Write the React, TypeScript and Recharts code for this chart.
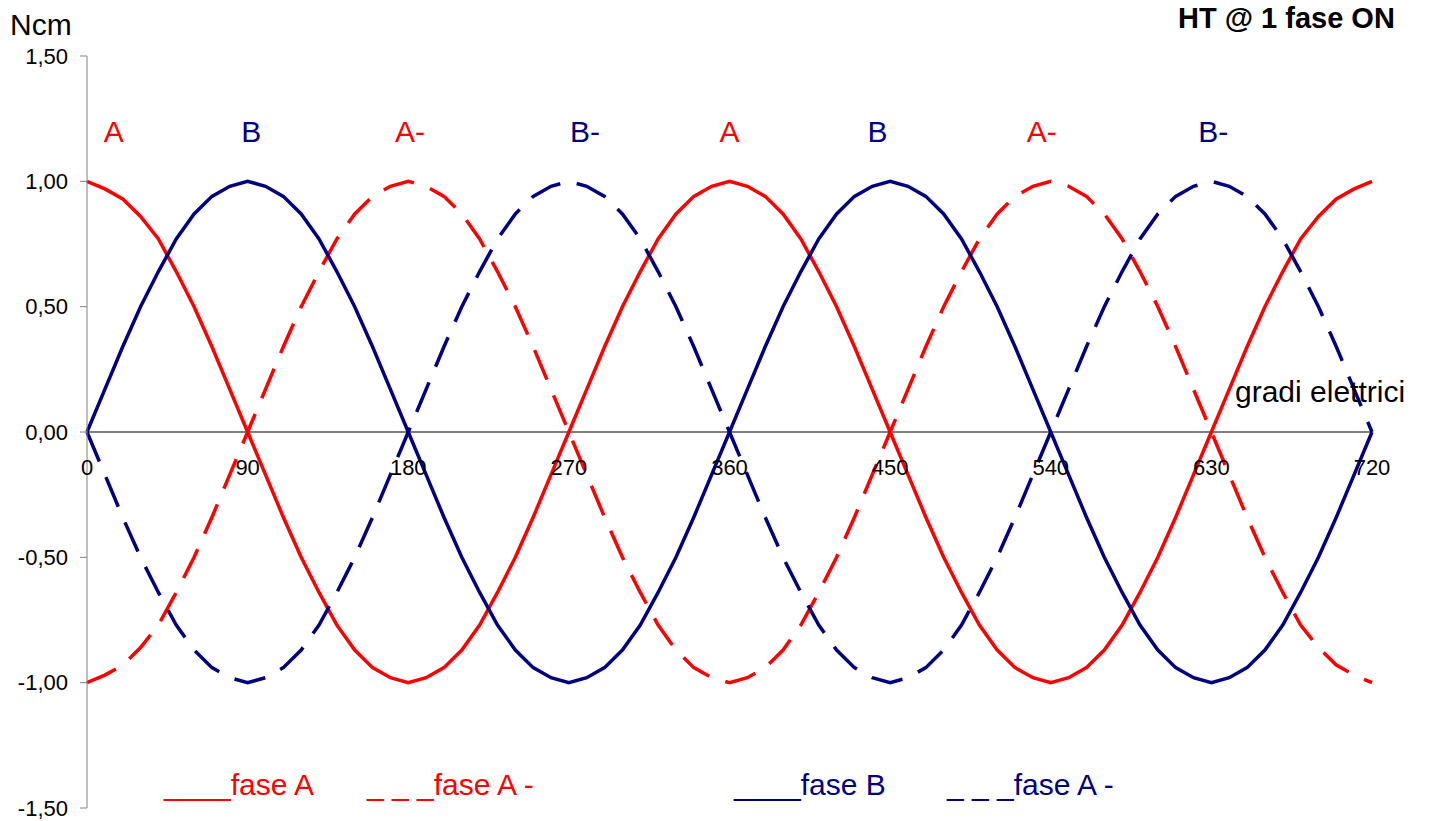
import { LineChart, Line, XAxis, YAxis, ReferenceLine, ReferenceDot } from 'recharts'

const FONT = '"Liberation Sans", Arial, sans-serif'
const RED = '#FF0000'
const NAVY = '#000080'

// gradi elettrici
const gradi = [
  0, 10, 20, 30, 40, 50, 60, 70, 80, 90,
  100, 110, 120, 130, 140, 150, 160, 170, 180,
  190, 200, 210, 220, 230, 240, 250, 260, 270,
  280, 290, 300, 310, 320, 330, 340, 350, 360,
  370, 380, 390, 400, 410, 420, 430, 440, 450,
  460, 470, 480, 490, 500, 510, 520, 530, 540,
  550, 560, 570, 580, 590, 600, 610, 620, 630,
  640, 650, 660, 670, 680, 690, 700, 710, 720,
]

const faseA = [
  1.0, 0.97, 0.93, 0.86, 0.77, 0.64, 0.5, 0.34, 0.17, 0.0,
  -0.17, -0.34, -0.5, -0.64, -0.77, -0.87, -0.94, -0.98, -1.0,
  -0.98, -0.94, -0.87, -0.77, -0.64, -0.5, -0.34, -0.17, 0.0,
  0.17, 0.34, 0.5, 0.64, 0.77, 0.87, 0.94, 0.98, 1.0,
  0.98, 0.94, 0.87, 0.77, 0.64, 0.5, 0.34, 0.17, 0.0,
  -0.17, -0.34, -0.5, -0.64, -0.77, -0.87, -0.94, -0.98, -1.0,
  -0.98, -0.94, -0.87, -0.77, -0.64, -0.5, -0.34, -0.17, 0.0,
  0.17, 0.34, 0.5, 0.64, 0.77, 0.86, 0.93, 0.97, 1.0,
]

const faseAneg = [
  -1.0, -0.97, -0.93, -0.86, -0.77, -0.64, -0.5, -0.34, -0.17, 0.0,
  0.17, 0.34, 0.5, 0.64, 0.77, 0.87, 0.94, 0.98, 1.0,
  0.98, 0.94, 0.87, 0.77, 0.64, 0.5, 0.34, 0.17, 0.0,
  -0.17, -0.34, -0.5, -0.64, -0.77, -0.87, -0.94, -0.98, -1.0,
  -0.98, -0.94, -0.87, -0.77, -0.64, -0.5, -0.34, -0.17, 0.0,
  0.17, 0.34, 0.5, 0.64, 0.77, 0.87, 0.94, 0.98, 1.0,
  0.98, 0.94, 0.87, 0.77, 0.64, 0.5, 0.34, 0.17, 0.0,
  -0.17, -0.34, -0.5, -0.64, -0.77, -0.86, -0.93, -0.97, -1.0,
]

const faseB = [
  0.0, 0.17, 0.34, 0.5, 0.64, 0.77, 0.87, 0.94, 0.98, 1.0,
  0.98, 0.94, 0.87, 0.77, 0.64, 0.5, 0.34, 0.17, 0.0,
  -0.17, -0.34, -0.5, -0.64, -0.77, -0.87, -0.94, -0.98, -1.0,
  -0.98, -0.94, -0.87, -0.77, -0.64, -0.5, -0.34, -0.17, 0.0,
  0.17, 0.34, 0.5, 0.64, 0.77, 0.87, 0.94, 0.98, 1.0,
  0.98, 0.94, 0.87, 0.77, 0.64, 0.5, 0.34, 0.17, 0.0,
  -0.17, -0.34, -0.5, -0.64, -0.77, -0.87, -0.94, -0.98, -1.0,
  -0.98, -0.94, -0.87, -0.77, -0.64, -0.5, -0.34, -0.17, 0.0,
]

const faseBneg = [
  0.0, -0.17, -0.34, -0.5, -0.64, -0.77, -0.87, -0.94, -0.98, -1.0,
  -0.98, -0.94, -0.87, -0.77, -0.64, -0.5, -0.34, -0.17, 0.0,
  0.17, 0.34, 0.5, 0.64, 0.77, 0.87, 0.94, 0.98, 1.0,
  0.98, 0.94, 0.87, 0.77, 0.64, 0.5, 0.34, 0.17, 0.0,
  -0.17, -0.34, -0.5, -0.64, -0.77, -0.87, -0.94, -0.98, -1.0,
  -0.98, -0.94, -0.87, -0.77, -0.64, -0.5, -0.34, -0.17, 0.0,
  0.17, 0.34, 0.5, 0.64, 0.77, 0.87, 0.94, 0.98, 1.0,
  0.98, 0.94, 0.87, 0.77, 0.64, 0.5, 0.34, 0.17, 0.0,
]

const xTicks = [0, 90, 180, 270, 360, 450, 540, 630, 720]
const yTicks = [-1.5, -1, -0.5, 0, 0.5, 1, 1.5]

// etichette sopra i picchi
const peakLabels = ['A', 'B', 'A-', 'B-', 'A', 'B', 'A-', 'B-']
const peakX = [15, 92, 181, 279, 360, 443, 535, 631]
const peakY = 1.2

const data = gradi.map((g, i) => ({
  g,
  a: faseA[i],
  aNeg: faseAneg[i],
  b: faseB[i],
  bNeg: faseBneg[i],
}))

const legendItems = [
  { text: '____fase A', color: RED, x: 164 },
  { text: '_ _ _fase A -', color: RED, x: 367 },
  { text: '____fase B', color: NAVY, x: 734 },
  { text: '_ _ _fase A -', color: NAVY, x: 947 },
]

const DASH = '32 17'
const LW = 3.5

export default function App() {
  return (
    <div style={{ position: 'absolute', left: 0, top: 0, width: 1431, height: 821, background: '#fff' }}>
      <LineChart
        width={1431}
        height={821}
        data={data}
        margin={{ top: 56, right: 59, bottom: 13, left: 0 }}
      >
        <XAxis dataKey="g" type="number" domain={[0, 720]} hide />
        <YAxis
          domain={[-1.5, 1.5]}
          ticks={yTicks}
          width={87}
          tickSize={7}
          tickMargin={12}
          axisLine={{ stroke: '#808080' }}
          tickLine={{ stroke: '#808080' }}
          tick={{ fill: '#000', fontSize: 22, fontFamily: FONT }}
          tickFormatter={(v: number) => v.toFixed(2).replace('.', ',')}
        />
        <ReferenceLine y={0} stroke="#555" strokeWidth={1.5} />
        {xTicks.map((t) => (
          <ReferenceDot
            key={'xt' + t}
            x={t}
            y={0}
            r={0}
            shape={(p: any) => (
              <text x={p.cx} y={p.cy + 43} textAnchor="middle" fontSize={22} fontFamily={FONT} fill="#000">
                {t}
              </text>
            )}
          />
        ))}
        <Line type="linear" dataKey="a" stroke={RED} strokeWidth={LW} dot={false} isAnimationActive={false} />
        <Line type="linear" dataKey="aNeg" stroke={RED} strokeWidth={LW} strokeDasharray={DASH} dot={false} isAnimationActive={false} />
        <Line type="linear" dataKey="b" stroke={NAVY} strokeWidth={LW} dot={false} isAnimationActive={false} />
        <Line type="linear" dataKey="bNeg" stroke={NAVY} strokeWidth={LW} strokeDasharray={DASH} dot={false} isAnimationActive={false} />
        {peakLabels.map((lab, i) => (
          <ReferenceDot
            key={'pk' + i}
            x={peakX[i]}
            y={peakY}
            r={0}
            shape={(p: any) => (
              <text
                x={p.cx}
                y={p.cy + 11}
                textAnchor="middle"
                fontSize={30}
                fontFamily={FONT}
                fill={lab.startsWith('A') ? RED : NAVY}
              >
                {lab}
              </text>
            )}
          />
        ))}
      </LineChart>
      <svg
        width={1431}
        height={821}
        style={{ position: 'absolute', left: 0, top: 0, pointerEvents: 'none' }}
      >
        <text x={10} y={35} fontSize={30} fontFamily={FONT} fill="#000">Ncm</text>
        <text x={1178} y={28} fontSize={29} fontWeight="bold" fontFamily={FONT} fill="#000">HT @ 1 fase ON</text>
        <text x={1235} y={402} fontSize={30} fontFamily={FONT} fill="#000">gradi elettrici</text>
        {legendItems.map((it, i) => (
          <text key={i} x={it.x} y={795} fontSize={30} fontFamily={FONT} fill={it.color} style={{ whiteSpace: 'pre' }}>
            {it.text}
          </text>
        ))}
      </svg>
    </div>
  )
}
